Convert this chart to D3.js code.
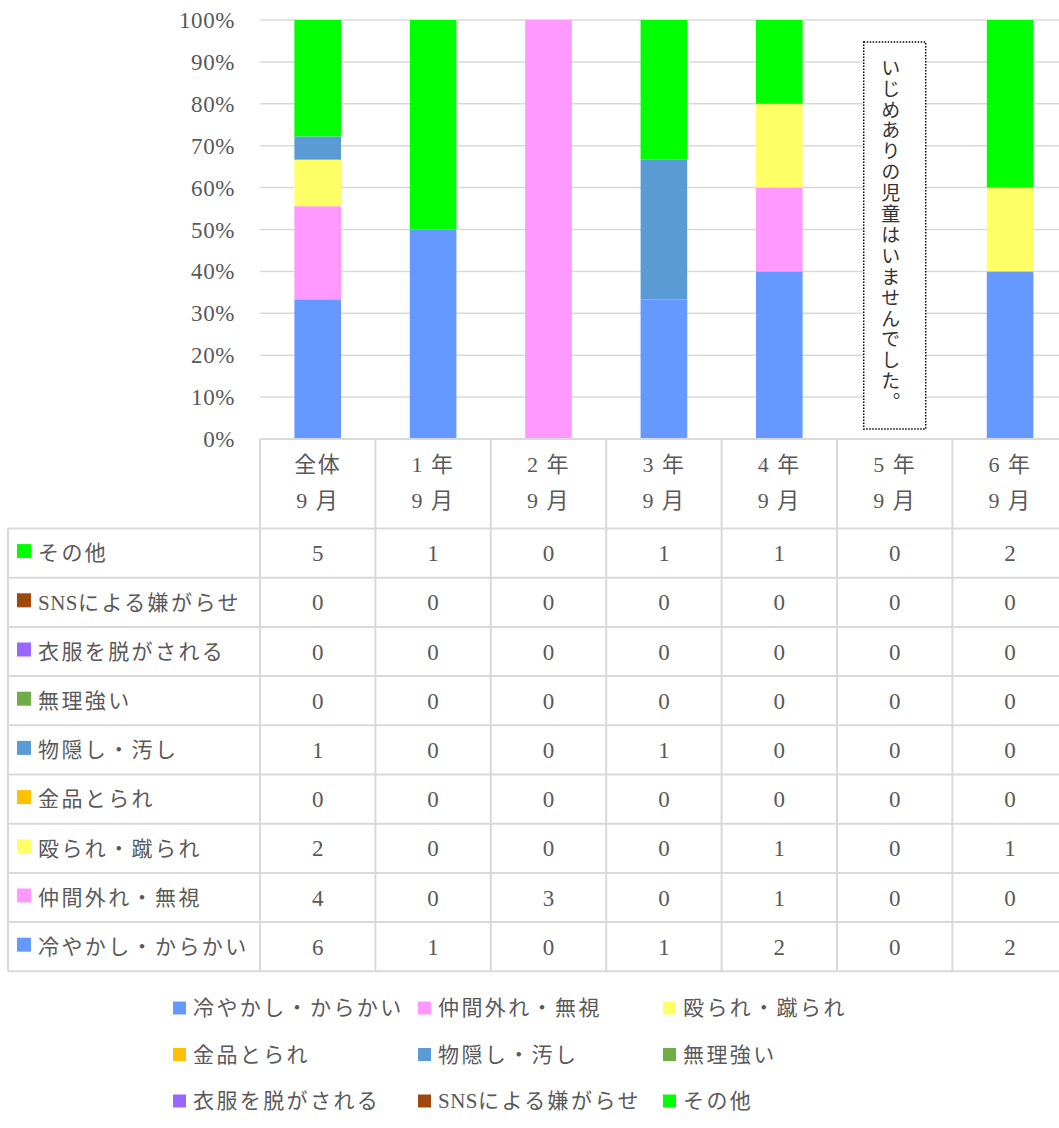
<!DOCTYPE html>
<html>
<head>
<meta charset="utf-8">
<script src="https://cdn.jsdelivr.net/npm/d3@7"></script>
<style>
  body { margin: 0; background: #fff; }
  svg text { font-family: "Liberation Serif", "Noto Sans CJK JP", serif; fill: #595959; }
</style>
</head>
<body>
<svg id="chart" width="1059" height="1128"></svg>
<script>
var grades = ["全体", "1 年", "2 年", "3 年", "4 年", "5 年", "6 年"];
var months = ["9 月", "9 月", "9 月", "9 月", "9 月", "9 月", "9 月"];
var seriesNames = ["冷やかし・からかい", "仲間外れ・無視", "殴られ・蹴られ", "金品とられ", "物隠し・汚し", "無理強い", "衣服を脱がされる", "SNSによる嫌がらせ", "その他"];
var seriesColors = ["#6699FF", "#FF99FF", "#FFFF66", "#FFC000", "#5B9BD5", "#70AD47", "#9966FF", "#9E480E", "#00FF00"];
var hiyakashi = [6, 1, 0, 1, 2, 0, 2];
var nakamahazure = [4, 0, 3, 0, 1, 0, 0];
var nagurare = [2, 0, 0, 0, 1, 0, 1];
var kinpin = [0, 0, 0, 0, 0, 0, 0];
var monokakushi = [1, 0, 0, 1, 0, 0, 0];
var murijii = [0, 0, 0, 0, 0, 0, 0];
var ifuku = [0, 0, 0, 0, 0, 0, 0];
var sns = [0, 0, 0, 0, 0, 0, 0];
var sonota = [5, 1, 0, 1, 1, 0, 2];
var yTicks = [0, 0.1, 0.2, 0.3, 0.4, 0.5, 0.6, 0.7, 0.8, 0.9, 1];
var noteText = "いじめありの児童はいませんでした。";

var values = [hiyakashi, nakamahazure, nagurare, kinpin, monokakushi, murijii, ifuku, sns, sonota];

// rows for d3.stack, as shares of each column total
var rows = grades.map(function(g, i) {
  var total = d3.sum(values, function(v) { return v[i]; });
  var r = { grade: g };
  seriesNames.forEach(function(s, k) { r[s] = total ? values[k][i] / total : 0; });
  return r;
});
var stacked = d3.stack().keys(seriesNames)(rows);

var svg = d3.select("#chart");
var plotLeft = 260, plotRight = 260 + 7 * 115.4, plotTop = 20, plotBottom = 439;
var tableLeft = 8, rowH = 49.2, headBottom = 528.5;

var x = d3.scaleBand().domain(grades).range([plotLeft, plotRight]).paddingInner(0.596).paddingOuter(0.298);
var col = d3.scaleBand().domain(grades).range([plotLeft, plotRight]);
var y = d3.scaleLinear().domain([0, 1]).range([plotBottom, plotTop]);

// latin runs get no extra spacing, kana/kanji get the wide Mincho feel
function label(sel, name) {
  name.match(/[A-Za-z0-9]+|[^A-Za-z0-9]+/g).forEach(function(part) {
    sel.append("tspan")
      .style("letter-spacing", /[A-Za-z0-9]/.test(part) ? "0.5px" : "2.4px")
      .text(part);
  });
}

// gridlines
svg.append("g").selectAll("line").data(yTicks).enter().append("line")
  .attr("x1", plotLeft).attr("x2", plotRight)
  .attr("y1", function(d) { return y(d); }).attr("y2", function(d) { return y(d); })
  .attr("stroke", "#D9D9D9").attr("stroke-width", 1.5);

// y axis labels
svg.append("g").selectAll("text").data(yTicks).enter().append("text")
  .attr("x", 235).attr("y", function(d) { return y(d); })
  .attr("dy", "0.35em").attr("text-anchor", "end")
  .style("font-size", "23px").style("letter-spacing", "0.6px")
  .text(function(d) { return Math.round(d * 100) + "%"; });

// bars
svg.append("g").selectAll("g").data(stacked).enter().append("g")
  .attr("fill", function(d, i) { return seriesColors[i]; })
  .selectAll("rect").data(function(d) { return d; }).enter().append("rect")
  .attr("x", function(d) { return x(d.data.grade); })
  .attr("width", x.bandwidth())
  .attr("y", function(d) { return y(d[1]); })
  .attr("height", function(d) { return y(d[0]) - y(d[1]); });

// note box for 5年
var noteX = col("5 年") + col.bandwidth() / 2;
svg.append("rect")
  .attr("x", noteX - 31).attr("y", 42).attr("width", 62).attr("height", 387)
  .attr("fill", "#fff").attr("stroke", "#000").attr("stroke-width", 1.5)
  .attr("stroke-dasharray", "1.5,1.5");
svg.append("text")
  .attr("x", noteX - 6).attr("y", 58)
  .attr("writing-mode", "vertical-rl")
  .style("font-size", "19px").style("letter-spacing", "1.9px")
  .style("fill", "#333")
  .text(noteText);

// data table
var tableRows = seriesNames.slice().reverse();
var tableBottom = headBottom + tableRows.length * rowH;
var grid = svg.append("g").attr("stroke", "#D9D9D9").attr("stroke-width", 2);

grid.append("line").attr("x1", plotLeft).attr("x2", plotRight).attr("y1", plotBottom).attr("y2", plotBottom);
d3.range(tableRows.length + 1).forEach(function(i) {
  grid.append("line").attr("x1", tableLeft).attr("x2", plotRight)
    .attr("y1", headBottom + i * rowH).attr("y2", headBottom + i * rowH);
});
grid.append("line").attr("x1", tableLeft).attr("x2", tableLeft).attr("y1", headBottom).attr("y2", tableBottom);
grades.forEach(function(g) {
  grid.append("line").attr("x1", col(g)).attr("x2", col(g)).attr("y1", plotBottom).attr("y2", tableBottom);
});
grid.append("line").attr("x1", plotRight).attr("x2", plotRight).attr("y1", plotBottom).attr("y2", tableBottom);

// header
grades.forEach(function(g, i) {
  var cx = col(g) + col.bandwidth() / 2;
  svg.append("text").attr("x", cx).attr("y", 464).attr("dy", "0.35em").attr("text-anchor", "middle")
    .style("font-size", "22px").style("letter-spacing", "1.5px").text(g);
  svg.append("text").attr("x", cx).attr("y", 500).attr("dy", "0.35em").attr("text-anchor", "middle")
    .style("font-size", "22px").style("letter-spacing", "1.5px").text(months[i]);
});

// rows
tableRows.forEach(function(name, r) {
  var k = seriesNames.indexOf(name);
  var cy = headBottom + r * rowH + rowH / 2;
  svg.append("rect").attr("x", 17).attr("y", cy - 9).attr("width", 14).attr("height", 14)
    .attr("fill", seriesColors[k]);
  label(svg.append("text").attr("x", 38).attr("y", cy).attr("dy", "0.35em")
    .style("font-size", "21px"), name);
  grades.forEach(function(g, i) {
    svg.append("text").attr("x", col(g) + col.bandwidth() / 2).attr("y", cy).attr("dy", "0.35em")
      .attr("text-anchor", "middle").style("font-size", "23px").text(values[k][i]);
  });
});

// legend
var legend = svg.append("g");
seriesNames.forEach(function(name, k) {
  var lx = 173 + (k % 3) * 245;
  var ly = 1008 + Math.floor(k / 3) * 46.5;
  legend.append("rect").attr("x", lx).attr("y", ly - 6.5).attr("width", 13).attr("height", 13)
    .attr("fill", seriesColors[k]);
  label(legend.append("text").attr("x", lx + 20).attr("y", ly).attr("dy", "0.35em")
    .style("font-size", "21px"), name);
});
</script>
</body>
</html>
